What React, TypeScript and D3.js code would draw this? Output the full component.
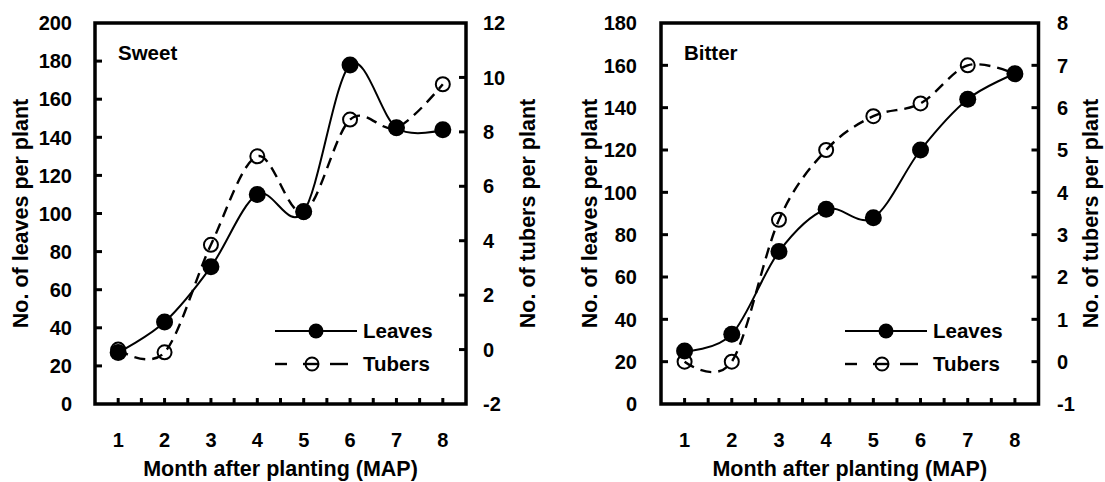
import React from "react";
import * as d3 from "d3";

// Months after planting
const months = [1, 2, 3, 4, 5, 6, 7, 8];

// Sweet cassava
const sweetLeaves = [27, 43, 72, 110, 101, 178, 145, 144];
const sweetTubers = [0, -0.1, 3.85, 7.1, 5.05, 8.45, 8.15, 9.75];

// Bitter cassava
const bitterLeaves = [25, 33, 72, 92, 88, 120, 144, 156];
const bitterTubers = [0, 0, 3.35, 5.0, 5.8, 6.1, 7.0, 6.8];

// Axis tick values
const sweetLeafTicks = [0, 20, 40, 60, 80, 100, 120, 140, 160, 180, 200];
const sweetTuberTicks = [-2, 0, 2, 4, 6, 8, 10, 12];
const bitterLeafTicks = [0, 20, 40, 60, 80, 100, 120, 140, 160, 180];
const bitterTuberTicks = [-1, 0, 1, 2, 3, 4, 5, 6, 7, 8];
const minorMonthTicks = [1, 1.5, 2, 2.5, 3, 3.5, 4, 4.5, 5, 5.5, 6, 6.5, 7, 7.5, 8];

const FONT = "'Liberation Sans', Arial, Helvetica, sans-serif";

type PanelProps = {
  title: string;
  leaves: number[];
  tubers: number[];
  leafTicks: number[];
  tuberTicks: number[];
  left: number;
  right: number;
  top: number;
  bottom: number;
  leftLabelX: number;
  leftTitleX: number;
  rightLabelX: number;
  rightTitleX: number;
  legendX: number;
};

function Panel(p: PanelProps) {
  const x = d3.scaleLinear().domain([0.5, 8.5]).range([p.left, p.right]);
  const yL = d3
    .scaleLinear()
    .domain([p.leafTicks[0], p.leafTicks[p.leafTicks.length - 1]])
    .range([p.bottom, p.top]);
  const yR = d3
    .scaleLinear()
    .domain([p.tuberTicks[0], p.tuberTicks[p.tuberTicks.length - 1]])
    .range([p.bottom, p.top]);

  const leafLine = d3
    .line<number>()
    .x((_, i) => x(months[i]))
    .y((d) => yL(d))
    .curve(d3.curveCardinal.tension(0));
  const tuberLine = d3
    .line<number>()
    .x((_, i) => x(months[i]))
    .y((d) => yR(d))
    .curve(d3.curveCardinal.tension(0));

  const axisW = 3.5;
  const tickLen = 7;
  const midY = (p.top + p.bottom) / 2;
  const midX = (p.left + p.right) / 2;
  const legY1 = 331;
  const legY2 = 364;
  const lx = p.legendX;

  return (
    <g fontFamily={FONT} fontWeight="bold" fill="#000">
      {/* tubers series */}
      <path
        d={tuberLine(p.tubers) ?? ""}
        fill="none"
        stroke="#000"
        strokeWidth={2.4}
        strokeDasharray="11,7"
      />
      {p.tubers.map((v, i) => (
        <circle key={"t" + i} cx={x(months[i])} cy={yR(v)} r={7} fill="none" stroke="#000" strokeWidth={2} />
      ))}
      {/* leaves series */}
      <path d={leafLine(p.leaves) ?? ""} fill="none" stroke="#000" strokeWidth={2} />
      {p.leaves.map((v, i) => (
        <circle key={"l" + i} cx={x(months[i])} cy={yL(v)} r={8.5} fill="#000" />
      ))}

      {/* frame */}
      <rect
        x={p.left}
        y={p.top}
        width={p.right - p.left}
        height={p.bottom - p.top}
        fill="none"
        stroke="#000"
        strokeWidth={axisW}
      />

      {/* left axis */}
      {p.leafTicks.map((t) => (
        <g key={"lt" + t}>
          {t !== p.leafTicks[0] && t !== p.leafTicks[p.leafTicks.length - 1] && (
            <line x1={p.left} x2={p.left + tickLen} y1={yL(t)} y2={yL(t)} stroke="#000" strokeWidth={3} />
          )}
          <text x={p.leftLabelX} y={yL(t)} dy="0.36em" textAnchor="end" fontSize={20}>
            {t}
          </text>
        </g>
      ))}
      <text
        transform={`translate(${p.leftTitleX},${midY}) rotate(-90)`}
        textAnchor="middle"
        fontSize={21.5}
      >
        No. of leaves per plant
      </text>

      {/* right axis */}
      {p.tuberTicks.map((t) => (
        <g key={"rt" + t}>
          {t !== p.tuberTicks[0] && t !== p.tuberTicks[p.tuberTicks.length - 1] && (
            <line x1={p.right} x2={p.right - tickLen} y1={yR(t)} y2={yR(t)} stroke="#000" strokeWidth={3} />
          )}
          <text x={p.rightLabelX} y={yR(t)} dy="0.36em" textAnchor="start" fontSize={20}>
            {t}
          </text>
        </g>
      ))}
      <text
        transform={`translate(${p.rightTitleX},${midY}) rotate(-90)`}
        textAnchor="middle"
        fontSize={21.5}
      >
        No. of tubers per plant
      </text>

      {/* bottom axis */}
      {minorMonthTicks.map((t) => (
        <line key={"mt" + t} x1={x(t)} x2={x(t)} y1={p.bottom} y2={p.bottom - 6} stroke="#000" strokeWidth={3} />
      ))}
      {months.map((m) => (
        <text key={"m" + m} x={x(m)} y={447} textAnchor="middle" fontSize={20}>
          {m}
        </text>
      ))}
      <text x={midX} y={476} textAnchor="middle" fontSize={21.5}>
        Month after planting (MAP)
      </text>

      {/* panel label */}
      <text x={p.left + 23} y={60} fontSize={20.5}>
        {p.title}
      </text>

      {/* legend */}
      <line x1={lx} x2={lx + 82} y1={legY1} y2={legY1} stroke="#000" strokeWidth={2} />
      <circle cx={lx + 41} cy={legY1} r={7.5} fill="#000" />
      <text x={lx + 88} y={legY1} dy="0.36em" fontSize={20.5}>
        Leaves
      </text>
      <line x1={lx} x2={lx + 12} y1={legY2} y2={legY2} stroke="#000" strokeWidth={2.4} />
      <line x1={lx + 28} x2={lx + 44} y1={legY2} y2={legY2} stroke="#000" strokeWidth={2.4} />
      <line x1={lx + 55} x2={lx + 73} y1={legY2} y2={legY2} stroke="#000" strokeWidth={2.4} />
      <circle cx={lx + 37} cy={legY2} r={6.5} fill="none" stroke="#000" strokeWidth={2} />
      <text x={lx + 88} y={legY2} dy="0.36em" fontSize={20.5}>
        Tubers
      </text>
    </g>
  );
}

export default function App() {
  return (
    <svg
      width={1105}
      height={482}
      style={{ position: "absolute", left: 0, top: 0, background: "#fff" }}
    >
      <Panel
        title="Sweet"
        leaves={sweetLeaves}
        tubers={sweetTubers}
        leafTicks={sweetLeafTicks}
        tuberTicks={sweetTuberTicks}
        left={95}
        right={466}
        top={23}
        bottom={404}
        leftLabelX={72}
        leftTitleX={28}
        rightLabelX={483}
        rightTitleX={535}
        legendX={275}
      />
      <Panel
        title="Bitter"
        leaves={bitterLeaves}
        tubers={bitterTubers}
        leafTicks={bitterLeafTicks}
        tuberTicks={bitterTuberTicks}
        left={661}
        right={1038.5}
        top={23}
        bottom={404}
        leftLabelX={637}
        leftTitleX={597}
        rightLabelX={1057}
        rightTitleX={1098}
        legendX={845}
      />
    </svg>
  );
}
